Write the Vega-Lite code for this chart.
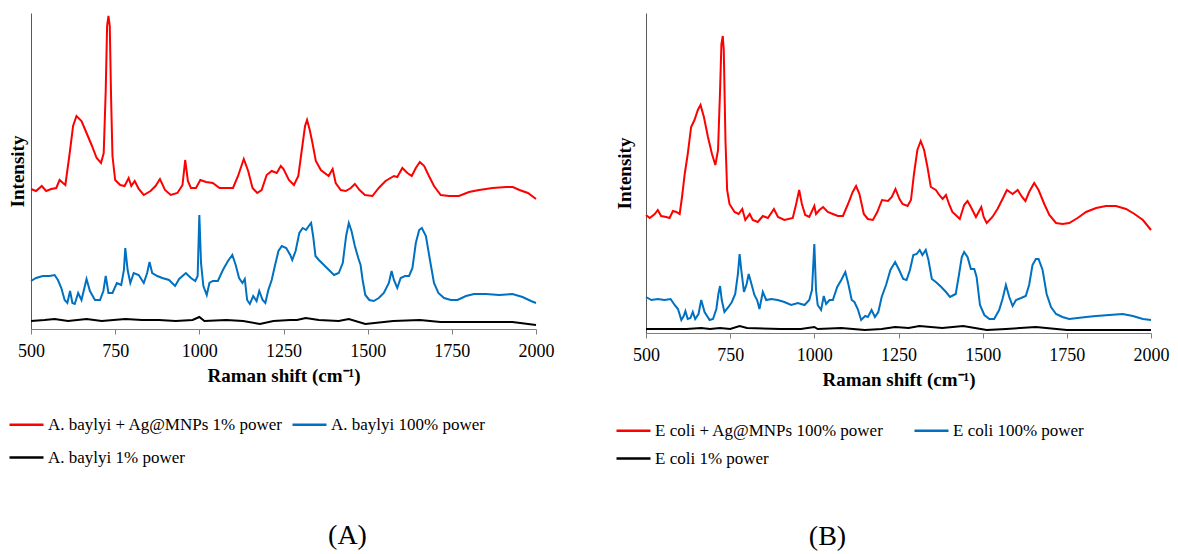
{
  "$schema": "https://vega.github.io/schema/vega-lite/v6.json",
  "padding": {"left": 8, "top": 12, "right": 5, "bottom": 0},
  "background": "white",
  "config": {
    "view": {"stroke": null},
    "font": "Liberation Serif",
    "title": {"font": "Liberation Serif"}
  },
  "datasets": {
    "Ar": [{"x":500,"y":140},{"x":515,"y":138},{"x":532,"y":143},{"x":545,"y":138},{"x":560,"y":140},{"x":575,"y":141},{"x":585,"y":149},{"x":595,"y":146},{"x":602,"y":144},{"x":615,"y":176},{"x":625,"y":203},{"x":635,"y":213},{"x":650,"y":208},{"x":665,"y":196},{"x":680,"y":184},{"x":695,"y":171},{"x":708,"y":166},{"x":716,"y":176},{"x":722,"y":239},{"x":726,"y":303},{"x":730,"y":313},{"x":734,"y":303},{"x":738,"y":229},{"x":742,"y":173},{"x":750,"y":149},{"x":765,"y":144},{"x":778,"y":143},{"x":790,"y":151},{"x":798,"y":143},{"x":808,"y":148},{"x":820,"y":140},{"x":835,"y":134},{"x":855,"y":138},{"x":870,"y":143},{"x":883,"y":150},{"x":898,"y":139},{"x":915,"y":134},{"x":935,"y":136},{"x":950,"y":144},{"x":958,"y":169},{"x":966,"y":148},{"x":975,"y":141},{"x":990,"y":141},{"x":1003,"y":149},{"x":1020,"y":147},{"x":1040,"y":146},{"x":1060,"y":141},{"x":1080,"y":141},{"x":1100,"y":141},{"x":1115,"y":153},{"x":1132,"y":170},{"x":1145,"y":158},{"x":1158,"y":141},{"x":1172,"y":136},{"x":1185,"y":139},{"x":1200,"y":154},{"x":1215,"y":158},{"x":1230,"y":156},{"x":1242,"y":163},{"x":1250,"y":160},{"x":1266,"y":149},{"x":1281,"y":144},{"x":1294,"y":153},{"x":1306,"y":183},{"x":1314,"y":203},{"x":1320,"y":209},{"x":1328,"y":199},{"x":1336,"y":186},{"x":1346,"y":168},{"x":1361,"y":159},{"x":1384,"y":153},{"x":1396,"y":160},{"x":1405,"y":146},{"x":1420,"y":139},{"x":1435,"y":138},{"x":1450,"y":141},{"x":1462,"y":145},{"x":1476,"y":139},{"x":1492,"y":134},{"x":1514,"y":133},{"x":1533,"y":141},{"x":1553,"y":148},{"x":1578,"y":153},{"x":1588,"y":152},{"x":1603,"y":161},{"x":1618,"y":156},{"x":1631,"y":153},{"x":1643,"y":161},{"x":1655,"y":167},{"x":1668,"y":163},{"x":1682,"y":153},{"x":1697,"y":143},{"x":1717,"y":134},{"x":1742,"y":133},{"x":1771,"y":133},{"x":1801,"y":137},{"x":1831,"y":139},{"x":1871,"y":141},{"x":1911,"y":142},{"x":1931,"y":142},{"x":1951,"y":139},{"x":1976,"y":136},{"x":2000,"y":130}],
    "Ab": [{"x":500,"y":48},{"x":515,"y":51},{"x":535,"y":53},{"x":555,"y":53},{"x":570,"y":54},{"x":580,"y":49},{"x":590,"y":41},{"x":600,"y":29},{"x":608,"y":26},{"x":616,"y":38},{"x":623,"y":26},{"x":630,"y":25},{"x":640,"y":36},{"x":650,"y":29},{"x":665,"y":50},{"x":675,"y":38},{"x":690,"y":29},{"x":705,"y":29},{"x":715,"y":38},{"x":722,"y":53},{"x":730,"y":36},{"x":742,"y":36},{"x":755,"y":46},{"x":768,"y":44},{"x":776,"y":59},{"x":780,"y":81},{"x":787,"y":59},{"x":795,"y":46},{"x":805,"y":56},{"x":820,"y":54},{"x":835,"y":46},{"x":845,"y":56},{"x":852,"y":67},{"x":860,"y":56},{"x":875,"y":53},{"x":890,"y":51},{"x":910,"y":49},{"x":928,"y":43},{"x":940,"y":50},{"x":960,"y":56},{"x":975,"y":51},{"x":988,"y":48},{"x":995,"y":53},{"x":1000,"y":114},{"x":1005,"y":66},{"x":1012,"y":43},{"x":1022,"y":34},{"x":1030,"y":46},{"x":1040,"y":48},{"x":1055,"y":48},{"x":1070,"y":59},{"x":1085,"y":68},{"x":1098,"y":74},{"x":1108,"y":64},{"x":1118,"y":51},{"x":1128,"y":46},{"x":1135,"y":50},{"x":1142,"y":29},{"x":1150,"y":25},{"x":1160,"y":33},{"x":1170,"y":28},{"x":1178,"y":38},{"x":1188,"y":29},{"x":1196,"y":26},{"x":1205,"y":39},{"x":1215,"y":49},{"x":1225,"y":64},{"x":1235,"y":78},{"x":1245,"y":83},{"x":1258,"y":81},{"x":1270,"y":74},{"x":1276,"y":69},{"x":1286,"y":78},{"x":1297,"y":96},{"x":1307,"y":101},{"x":1317,"y":99},{"x":1325,"y":103},{"x":1332,"y":106},{"x":1338,"y":93},{"x":1345,"y":73},{"x":1355,"y":69},{"x":1370,"y":64},{"x":1385,"y":59},{"x":1400,"y":54},{"x":1414,"y":56},{"x":1426,"y":66},{"x":1436,"y":93},{"x":1444,"y":106},{"x":1452,"y":98},{"x":1462,"y":83},{"x":1472,"y":71},{"x":1479,"y":64},{"x":1485,"y":49},{"x":1493,"y":34},{"x":1505,"y":29},{"x":1518,"y":28},{"x":1533,"y":31},{"x":1548,"y":36},{"x":1563,"y":46},{"x":1571,"y":58},{"x":1578,"y":49},{"x":1588,"y":41},{"x":1598,"y":51},{"x":1611,"y":53},{"x":1623,"y":53},{"x":1633,"y":61},{"x":1643,"y":86},{"x":1653,"y":99},{"x":1661,"y":101},{"x":1673,"y":93},{"x":1685,"y":69},{"x":1697,"y":46},{"x":1710,"y":36},{"x":1727,"y":31},{"x":1747,"y":29},{"x":1767,"y":29},{"x":1792,"y":33},{"x":1816,"y":35},{"x":1851,"y":35},{"x":1891,"y":34},{"x":1930,"y":35},{"x":1960,"y":32},{"x":1985,"y":28},{"x":2000,"y":26}],
    "Ak": [{"x":500,"y":8},{"x":540,"y":9},{"x":570,"y":10},{"x":610,"y":8},{"x":665,"y":10},{"x":710,"y":8},{"x":780,"y":10},{"x":830,"y":9},{"x":880,"y":9},{"x":930,"y":8},{"x":980,"y":9},{"x":1000,"y":12},{"x":1015,"y":8},{"x":1080,"y":9},{"x":1130,"y":8},{"x":1180,"y":5},{"x":1220,"y":8},{"x":1270,"y":9},{"x":1290,"y":9},{"x":1316,"y":11},{"x":1355,"y":9},{"x":1414,"y":8},{"x":1444,"y":10},{"x":1493,"y":5},{"x":1576,"y":8},{"x":1655,"y":9},{"x":1716,"y":7},{"x":1831,"y":7},{"x":1930,"y":7},{"x":2000,"y":4}],
    "Br": [{"x":500,"y":118},{"x":511,"y":115},{"x":526,"y":119},{"x":535,"y":123},{"x":545,"y":117},{"x":560,"y":116},{"x":570,"y":115},{"x":580,"y":122},{"x":590,"y":121},{"x":600,"y":119},{"x":607,"y":136},{"x":615,"y":159},{"x":624,"y":179},{"x":634,"y":206},{"x":644,"y":213},{"x":654,"y":223},{"x":662,"y":228},{"x":672,"y":216},{"x":684,"y":196},{"x":696,"y":179},{"x":706,"y":168},{"x":714,"y":183},{"x":720,"y":243},{"x":724,"y":289},{"x":728,"y":297},{"x":731,"y":283},{"x":736,"y":193},{"x":741,"y":143},{"x":748,"y":129},{"x":763,"y":121},{"x":775,"y":119},{"x":786,"y":124},{"x":795,"y":113},{"x":808,"y":119},{"x":817,"y":113},{"x":832,"y":111},{"x":847,"y":117},{"x":862,"y":115},{"x":880,"y":124},{"x":892,"y":116},{"x":911,"y":113},{"x":936,"y":115},{"x":946,"y":129},{"x":955,"y":143},{"x":963,"y":129},{"x":973,"y":118},{"x":985,"y":116},{"x":1000,"y":127},{"x":1005,"y":119},{"x":1015,"y":123},{"x":1026,"y":126},{"x":1040,"y":121},{"x":1055,"y":119},{"x":1070,"y":117},{"x":1085,"y":117},{"x":1100,"y":129},{"x":1114,"y":141},{"x":1124,"y":147},{"x":1134,"y":139},{"x":1147,"y":119},{"x":1159,"y":114},{"x":1174,"y":113},{"x":1187,"y":121},{"x":1201,"y":133},{"x":1219,"y":132},{"x":1230,"y":136},{"x":1241,"y":144},{"x":1253,"y":134},{"x":1262,"y":129},{"x":1277,"y":127},{"x":1287,"y":133},{"x":1296,"y":159},{"x":1306,"y":183},{"x":1316,"y":192},{"x":1326,"y":183},{"x":1336,"y":166},{"x":1346,"y":146},{"x":1361,"y":143},{"x":1371,"y":138},{"x":1381,"y":134},{"x":1391,"y":138},{"x":1400,"y":129},{"x":1410,"y":121},{"x":1420,"y":118},{"x":1432,"y":114},{"x":1445,"y":128},{"x":1455,"y":132},{"x":1465,"y":126},{"x":1480,"y":116},{"x":1488,"y":121},{"x":1496,"y":126},{"x":1503,"y":116},{"x":1512,"y":110},{"x":1529,"y":116},{"x":1544,"y":124},{"x":1559,"y":134},{"x":1572,"y":143},{"x":1589,"y":139},{"x":1604,"y":143},{"x":1617,"y":136},{"x":1627,"y":132},{"x":1638,"y":141},{"x":1653,"y":150},{"x":1666,"y":143},{"x":1683,"y":129},{"x":1698,"y":118},{"x":1718,"y":110},{"x":1737,"y":109},{"x":1757,"y":110},{"x":1782,"y":115},{"x":1807,"y":121},{"x":1837,"y":125},{"x":1866,"y":127},{"x":1896,"y":127},{"x":1926,"y":124},{"x":1951,"y":119},{"x":1976,"y":113},{"x":2000,"y":103}],
    "Bb": [{"x":500,"y":36},{"x":516,"y":33},{"x":535,"y":34},{"x":555,"y":33},{"x":573,"y":34},{"x":585,"y":28},{"x":595,"y":24},{"x":605,"y":13},{"x":612,"y":17},{"x":617,"y":22},{"x":624,"y":14},{"x":632,"y":15},{"x":639,"y":21},{"x":646,"y":14},{"x":656,"y":19},{"x":664,"y":33},{"x":674,"y":21},{"x":689,"y":13},{"x":699,"y":14},{"x":709,"y":24},{"x":715,"y":39},{"x":720,"y":47},{"x":725,"y":33},{"x":733,"y":21},{"x":745,"y":26},{"x":755,"y":31},{"x":765,"y":39},{"x":773,"y":59},{"x":778,"y":79},{"x":783,"y":63},{"x":791,"y":41},{"x":799,"y":49},{"x":805,"y":59},{"x":810,"y":53},{"x":822,"y":38},{"x":830,"y":33},{"x":837,"y":24},{"x":847,"y":41},{"x":857,"y":33},{"x":872,"y":34},{"x":891,"y":33},{"x":911,"y":31},{"x":931,"y":28},{"x":951,"y":30},{"x":971,"y":28},{"x":985,"y":33},{"x":993,"y":43},{"x":1000,"y":89},{"x":1005,"y":43},{"x":1010,"y":28},{"x":1020,"y":23},{"x":1028,"y":37},{"x":1035,"y":29},{"x":1045,"y":33},{"x":1055,"y":33},{"x":1068,"y":46},{"x":1080,"y":53},{"x":1092,"y":61},{"x":1101,"y":49},{"x":1111,"y":33},{"x":1119,"y":31},{"x":1129,"y":24},{"x":1139,"y":13},{"x":1151,"y":17},{"x":1159,"y":16},{"x":1170,"y":23},{"x":1180,"y":16},{"x":1190,"y":21},{"x":1200,"y":36},{"x":1213,"y":48},{"x":1226,"y":63},{"x":1240,"y":71},{"x":1252,"y":63},{"x":1264,"y":54},{"x":1274,"y":53},{"x":1284,"y":63},{"x":1294,"y":78},{"x":1304,"y":79},{"x":1313,"y":83},{"x":1321,"y":78},{"x":1331,"y":83},{"x":1339,"y":73},{"x":1349,"y":54},{"x":1361,"y":51},{"x":1377,"y":46},{"x":1391,"y":41},{"x":1403,"y":36},{"x":1420,"y":39},{"x":1430,"y":59},{"x":1438,"y":76},{"x":1445,"y":81},{"x":1455,"y":76},{"x":1465,"y":64},{"x":1475,"y":64},{"x":1482,"y":56},{"x":1492,"y":28},{"x":1505,"y":18},{"x":1520,"y":14},{"x":1534,"y":14},{"x":1549,"y":23},{"x":1559,"y":34},{"x":1569,"y":48},{"x":1579,"y":36},{"x":1589,"y":27},{"x":1599,"y":33},{"x":1614,"y":35},{"x":1628,"y":37},{"x":1638,"y":48},{"x":1648,"y":68},{"x":1658,"y":74},{"x":1666,"y":74},{"x":1678,"y":63},{"x":1690,"y":39},{"x":1703,"y":26},{"x":1718,"y":19},{"x":1737,"y":16},{"x":1757,"y":14},{"x":1782,"y":15},{"x":1807,"y":16},{"x":1837,"y":17},{"x":1876,"y":18},{"x":1916,"y":19},{"x":1946,"y":17},{"x":1976,"y":14},{"x":2000,"y":13}],
    "Bk": [{"x":500,"y":4},{"x":560,"y":4},{"x":620,"y":4},{"x":664,"y":5},{"x":690,"y":4},{"x":720,"y":5},{"x":750,"y":4},{"x":778,"y":7},{"x":800,"y":5},{"x":900,"y":4},{"x":960,"y":4},{"x":1000,"y":6},{"x":1010,"y":4},{"x":1080,"y":5},{"x":1150,"y":3},{"x":1200,"y":4},{"x":1240,"y":6},{"x":1280,"y":5},{"x":1312,"y":7},{"x":1380,"y":5},{"x":1442,"y":7},{"x":1512,"y":3},{"x":1569,"y":4},{"x":1658,"y":6},{"x":1750,"y":3},{"x":1850,"y":3},{"x":2000,"y":3}]
  },
  "spacing": 61,
  "resolve": {"scale": {"color": "independent", "x": "independent", "y": "independent"}, "legend": {"color": "independent"}},
  "hconcat": [
    {
      "width": 505,
      "height": 316,
      "title": {"text": "(A)", "orient": "bottom", "anchor": "middle", "frame": "group", "dx": 64, "offset": 56, "font": "Liberation Serif", "fontSize": 28, "fontWeight": "normal", "color": "black"},
      "encoding": {
        "x": {"field": "x", "type": "quantitative", "scale": {"domain": [500, 2000], "nice": false, "zero": false},
              "axis": {"title": "Raman shift (cm⁻¹)", "values": [500, 750, 1000, 1250, 1500, 1750, 2000], "format": "d", "grid": false, "tickSize": 5, "labelFont": "Liberation Serif", "titleFont": "Liberation Serif", "labelColor": "black", "titleColor": "black", "labelFontSize": 18, "titleFontSize": 19, "titleFontWeight": "bold", "labelPadding": 8, "titlePadding": 6, "labelFlush": false, "labelOverlap": false, "domainColor": "#7f7f7f", "tickColor": "#7f7f7f"}},
        "y": {"field": "y", "type": "quantitative", "scale": {"domain": [0, 316], "nice": false},
              "axis": {"title": "Intensity", "grid": false, "ticks": false, "labels": false, "titleFont": "Liberation Serif", "titleColor": "black", "titleFontSize": 19, "titleFontWeight": "bold", "titlePadding": 4, "domainColor": "#595959"}}
      },
      "layer": [
        {"data": {"name": "Ar"}, "mark": {"type": "line", "strokeWidth": 2},
         "encoding": {"color": {"datum": "A. baylyi + Ag@MNPs 1% power", "type": "nominal",
           "scale": {"domain": ["A. baylyi + Ag@MNPs 1% power", "A. baylyi 100% power", "A. baylyi 1% power"], "range": ["#ff0000", "#0070c0", "#000000"]},
           "legend": {"title": null, "orient": "none", "direction": "horizontal", "legendX": -23, "legendY": 393, "values": ["A. baylyi + Ag@MNPs 1% power", "A. baylyi 100% power", "A. baylyi 1% power"], "columns": 2, "columnPadding": 4, "rowPadding": 6, "symbolType": "stroke", "symbolSize": 1156, "symbolStrokeWidth": 2.5, "labelFont": "Liberation Serif", "labelColor": "black", "labelFontSize": 17, "labelOffset": 3, "labelLimit": 600}}}},
        {"data": {"name": "Ab"}, "mark": {"type": "line", "strokeWidth": 2},
         "encoding": {"color": {"datum": "A. baylyi 100% power", "type": "nominal",
           "scale": {"domain": ["A. baylyi + Ag@MNPs 1% power", "A. baylyi 100% power", "A. baylyi 1% power"], "range": ["#ff0000", "#0070c0", "#000000"]}}}},
        {"data": {"name": "Ak"}, "mark": {"type": "line", "strokeWidth": 2},
         "encoding": {"color": {"datum": "A. baylyi 1% power", "type": "nominal",
           "scale": {"domain": ["A. baylyi + Ag@MNPs 1% power", "A. baylyi 100% power", "A. baylyi 1% power"], "range": ["#ff0000", "#0070c0", "#000000"]}}}}
      ]
    },
    {
      "width": 505,
      "height": 320,
      "title": {"text": "(B)", "orient": "bottom", "anchor": "middle", "frame": "group", "dx": -71, "offset": 56, "font": "Liberation Serif", "fontSize": 28, "fontWeight": "normal", "color": "black"},
      "encoding": {
        "x": {"field": "x", "type": "quantitative", "scale": {"domain": [500, 2000], "nice": false, "zero": false},
              "axis": {"title": "Raman shift (cm⁻¹)", "values": [500, 750, 1000, 1250, 1500, 1750, 2000], "format": "d", "grid": false, "tickSize": 5, "labelFont": "Liberation Serif", "titleFont": "Liberation Serif", "labelColor": "black", "titleColor": "black", "labelFontSize": 18, "titleFontSize": 19, "titleFontWeight": "bold", "labelPadding": 8, "titlePadding": 6, "labelFlush": false, "labelOverlap": false, "domainColor": "#7f7f7f", "tickColor": "#7f7f7f"}},
        "y": {"field": "y", "type": "quantitative", "scale": {"domain": [0, 320], "nice": false},
              "axis": {"title": "Intensity", "grid": false, "ticks": false, "labels": false, "titleFont": "Liberation Serif", "titleColor": "black", "titleFontSize": 19, "titleFontWeight": "bold", "titlePadding": 12, "domainColor": "#595959"}}
      },
      "layer": [
        {"data": {"name": "Br"}, "mark": {"type": "line", "strokeWidth": 2},
         "encoding": {"color": {"datum": "E coli + Ag@MNPs 100% power", "type": "nominal",
           "scale": {"domain": ["E coli + Ag@MNPs 100% power", "E coli 100% power", "E coli 1% power"], "range": ["#ff0000", "#0070c0", "#000000"]},
           "legend": {"title": null, "orient": "none", "direction": "horizontal", "legendX": -31, "legendY": 399, "values": ["E coli + Ag@MNPs 100% power", "E coli 100% power", "E coli 1% power"], "columns": 2, "columnPadding": 25, "rowPadding": 1, "symbolType": "stroke", "symbolSize": 1156, "symbolStrokeWidth": 2.5, "labelFont": "Liberation Serif", "labelColor": "black", "labelFontSize": 17, "labelOffset": 3, "labelLimit": 600}}}},
        {"data": {"name": "Bb"}, "mark": {"type": "line", "strokeWidth": 2},
         "encoding": {"color": {"datum": "E coli 100% power", "type": "nominal",
           "scale": {"domain": ["E coli + Ag@MNPs 100% power", "E coli 100% power", "E coli 1% power"], "range": ["#ff0000", "#0070c0", "#000000"]}}}},
        {"data": {"name": "Bk"}, "mark": {"type": "line", "strokeWidth": 2},
         "encoding": {"color": {"datum": "E coli 1% power", "type": "nominal",
           "scale": {"domain": ["E coli + Ag@MNPs 100% power", "E coli 100% power", "E coli 1% power"], "range": ["#ff0000", "#0070c0", "#000000"]}}}}
      ]
    }
  ]
}
